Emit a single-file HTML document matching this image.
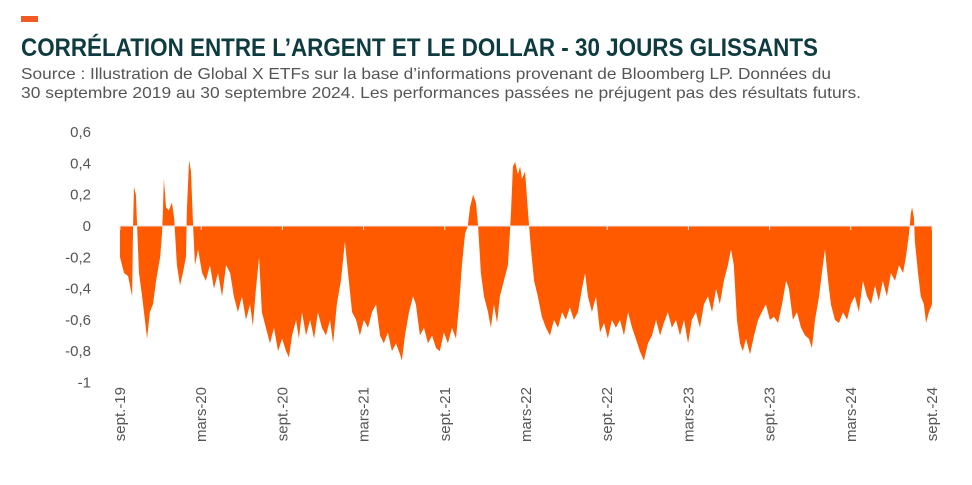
<!DOCTYPE html>
<html><head><meta charset="utf-8">
<style>
html,body{margin:0;padding:0;background:#fff;}
svg{display:block;font-family:"Liberation Sans",sans-serif;}
</style></head>
<body>
<svg id="chart" width="972" height="485" viewBox="0 0 972 485" xmlns="http://www.w3.org/2000/svg">
  <rect x="21" y="16" width="17" height="6" fill="#f15a22"/>
  <text x="21" y="56" font-size="25" font-weight="bold" fill="#0d3b3f" textLength="797" lengthAdjust="spacingAndGlyphs">CORRÉLATION ENTRE L’ARGENT ET LE DOLLAR - 30 JOURS GLISSANTS</text>
  <text x="21" y="79" font-size="16" fill="#555" textLength="810" lengthAdjust="spacingAndGlyphs">Source : Illustration de Global X ETFs sur la base d’informations provenant de Bloomberg LP. Données du</text>
  <text x="21" y="98" font-size="16" fill="#555" textLength="840" lengthAdjust="spacingAndGlyphs">30 septembre 2019 au 30 septembre 2024. Les performances passées ne préjugent pas des résultats futurs.</text>
  <g id="plot"></g>
</svg>
<script>
const weeks = [0,1.3,2.6,3.9,4.2,4.5,5.1,5.5,6.1,7.1,8.0,8.7,9.6,10.6,11.6,12.9,13.5,13.8,14.1,14.8,15.7,16.7,17.4,17.7,18.3,19.3,20.2,21.2,21.5,22.2,22.8,23.5,24.1,25.1,26.4,27.6,28.9,30.2,31.5,32.8,34.1,35.4,36.6,37.9,39.2,40.5,41.8,42.7,43.7,44.7,45.6,46.9,48.2,49.5,50.8,52.1,53.4,54.3,55.3,56.6,57.5,58.5,59.8,61.1,62.4,63.6,64.9,66.2,67.5,68.5,69.7,71.0,72.3,73.3,74.6,75.9,77.1,78.4,79.7,81.0,82.3,83.6,84.8,86.1,87.4,88.7,90.0,90.6,91.6,92.9,94.2,95.1,96.4,97.7,99.0,100.3,101.6,102.8,104.1,105.4,106.7,108.0,109.0,109.9,110.9,111.8,112.5,113.5,114.4,115.1,116.0,117.0,118.3,119.2,120.2,121.2,122.1,123.4,124.7,125.3,125.7,126.3,127.0,127.9,128.6,129.2,130.2,131.1,131.5,132.1,133.1,134.3,135.6,136.9,138.2,139.5,140.8,142.1,143.3,144.6,145.9,147.2,148.5,149.5,150.4,151.7,153.0,154.3,155.6,156.8,158.1,159.4,160.7,162.0,163.3,164.6,165.8,167.1,168.4,169.7,171.0,172.3,173.6,174.8,176.1,177.4,178.7,180.0,181.3,182.6,183.8,185.1,186.4,187.7,189.0,190.3,191.6,192.8,194.1,195.4,196.4,197.3,198.3,199.3,200.2,201.2,202.5,203.8,205.1,206.3,207.6,208.9,210.2,211.5,212.8,214.1,215.0,216.3,217.6,218.9,220.2,221.4,222.4,223.4,224.7,225.6,226.6,227.6,228.5,229.8,231.1,232.4,233.7,234.9,236.2,237.5,238.8,240.1,241.4,242.7,243.9,245.2,246.5,247.8,249.1,250.4,251.7,252.6,253.6,254.2,254.6,255.2,255.5,256.5,257.4,258.4,259.1,260.0,261.0];
const corr = [-0.2,-0.3,-0.32,-0.45,0,0.25,0.2,0,-0.3,-0.45,-0.6,-0.72,-0.55,-0.5,-0.35,-0.2,-0.05,0.1,0.3,0.12,0.1,0.15,0.05,-0.05,-0.25,-0.38,-0.3,-0.2,0.1,0.42,0.35,0,-0.25,-0.15,-0.3,-0.35,-0.25,-0.4,-0.3,-0.45,-0.25,-0.3,-0.45,-0.55,-0.45,-0.6,-0.5,-0.64,-0.4,-0.2,-0.55,-0.65,-0.75,-0.65,-0.8,-0.72,-0.8,-0.84,-0.7,-0.6,-0.72,-0.55,-0.7,-0.6,-0.72,-0.55,-0.65,-0.7,-0.6,-0.75,-0.5,-0.35,-0.1,-0.3,-0.55,-0.6,-0.7,-0.6,-0.65,-0.55,-0.5,-0.7,-0.75,-0.68,-0.8,-0.75,-0.82,-0.86,-0.7,-0.55,-0.45,-0.5,-0.7,-0.65,-0.75,-0.7,-0.78,-0.8,-0.68,-0.75,-0.65,-0.72,-0.5,-0.25,-0.05,0,0.12,0.2,0.15,0,-0.3,-0.45,-0.55,-0.65,-0.5,-0.62,-0.45,-0.35,-0.25,-0.05,0.1,0.38,0.41,0.33,0.38,0.3,0.35,0.1,0,-0.15,-0.35,-0.45,-0.58,-0.65,-0.7,-0.6,-0.65,-0.55,-0.6,-0.52,-0.6,-0.55,-0.4,-0.3,-0.45,-0.55,-0.45,-0.68,-0.62,-0.72,-0.6,-0.65,-0.6,-0.7,-0.55,-0.65,-0.72,-0.8,-0.86,-0.75,-0.7,-0.6,-0.7,-0.62,-0.55,-0.65,-0.6,-0.7,-0.6,-0.75,-0.6,-0.55,-0.65,-0.5,-0.45,-0.55,-0.4,-0.5,-0.35,-0.25,-0.15,-0.25,-0.6,-0.75,-0.8,-0.72,-0.82,-0.7,-0.6,-0.55,-0.5,-0.6,-0.58,-0.62,-0.5,-0.35,-0.4,-0.6,-0.55,-0.65,-0.7,-0.72,-0.78,-0.6,-0.45,-0.3,-0.15,-0.35,-0.5,-0.6,-0.62,-0.55,-0.6,-0.5,-0.45,-0.55,-0.35,-0.45,-0.5,-0.38,-0.48,-0.35,-0.45,-0.3,-0.35,-0.25,-0.3,-0.2,-0.05,0.08,0.12,0.05,-0.1,-0.3,-0.45,-0.5,-0.62,-0.55,-0.5];
const yTicks = [0.6,0.4,0.2,0,-0.2,-0.4,-0.6,-0.8,-1];
const yTickLabels = ["0,6","0,4","0,2","0","-0,2","-0,4","-0,6","-0,8","-1"];
const xTickWeeks = [0,26.1,52.2,78.3,104.4,130.5,156.6,182.7,208.8,234.9,261];
const xTickLabels = ["sept.-19","mars-20","sept.-20","mars-21","sept.-21","mars-22","sept.-22","mars-23","sept.-23","mars-24","sept.-24"];

const NS = "http://www.w3.org/2000/svg";
const plot = document.getElementById('plot');
const X0 = 120, X1 = 932, Y0 = 226, PER = 156.5;
const xs = w => X0 + (w - 0) / 261 * (X1 - X0);
const ys = v => Y0 - v * PER;
function mk(tag, attrs){ const e=document.createElementNS(NS,tag); for(const k in attrs) e.setAttribute(k,attrs[k]); plot.appendChild(e); return e; }

yTicks.forEach((t,i)=>{
  const el = mk('text',{x:91,y:ys(t)+5,'font-size':15,fill:'#555','text-anchor':'end'});
  el.textContent = yTickLabels[i];
  
  
});

let d = `M${xs(weeks[0])},${ys(0)}`;
weeks.forEach((w,i)=>{ d += ` L${xs(w).toFixed(2)},${ys(corr[i]).toFixed(2)}`; });
d += ` L${xs(weeks[weeks.length-1])},${ys(0)} Z`;
const area = mk('path',{d:d,fill:'#ff5a00'});



const zl = mk('line',{x1:X0,x2:X1,y1:ys(0),y2:ys(0),stroke:'#e6e6e6','stroke-width':1});



xTickWeeks.forEach((w,i)=>{
  const x = xs(w);
  const tk = mk('line',{x1:x,x2:x,y1:ys(0),y2:ys(0)+4,stroke:'#e6e6e6','stroke-width':1});
  
  
  const el = mk('text',{x:0,y:0,'font-size':15,fill:'#555','text-anchor':'end',transform:`translate(${x+5},387) rotate(-90)`});
  el.textContent = xTickLabels[i];
  
  
});
</script>
</body></html>
